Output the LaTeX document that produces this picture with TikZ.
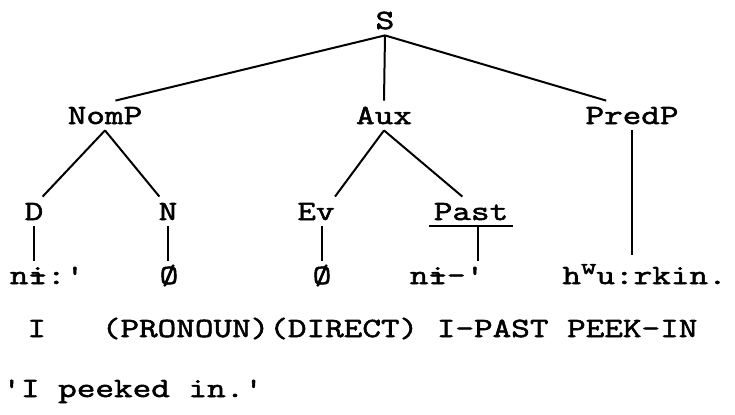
\documentclass[tikz,border=0pt]{standalone}
\usepackage{fontspec}
\setmonofont{Latin Modern Mono}[FakeStretch=1.3, FakeBold=2]
\usepackage{tikz}
\usetikzlibrary{positioning}
\tikzset{
	cat/.style={font=\ttfamily\fontsize{13.9}{16}\selectfont, inner xsep=0pt, inner ysep=3pt, text height=8.5pt, text depth=0pt, anchor=base},
	gloss/.style={font=\ttfamily\fontsize{13.9}{16}\selectfont, inner sep=0pt, anchor=base west},
	branch/.style={line width=1pt},
	>=latex
}
\newcommand{\ibar}{\rlap{i}-}
\newcommand{\supw}{\raisebox{5pt}{\fontsize{11.5}{13}\selectfont w}}
% one typewriter space
\newcommand{\tsp}{\phantom{x}}

\begin{document}
\begin{tikzpicture}[x=0.5pt, y=-0.5pt]
	% PAGE SIZE
	\useasboundingbox (0,0) rectangle (735,414);
	
	% baselines of the rows
	\newcommand{\rowS}{29} \newcommand{\rowP}{124}
	\newcommand{\rowC}{220} \newcommand{\rowW}{284}
	\newcommand{\rowG}{337} \newcommand{\rowT}{397}
	
	% Categories
	\node[cat] (S) at (385,\rowS) {S};
	\node[cat] (NomP) at (105,\rowP) {NomP};
	\node[cat] (Aux) at (384,\rowP) {Aux};
	\node[cat] (PredP) at (632,\rowP) {PredP};
	\node[cat] (D) at (34,\rowC) {D};
	\node[cat] (N) at (168,\rowC) {N};
	\node[cat] (Ev) at (316,\rowC) {Ev};
	\node[cat, inner xsep=2pt] (Past) at (471,\rowC) {Past};
	
	% Morphemes
	\node[cat] (nia) at (47,\rowW) {n\ibar:'};
	\node[cat] (zeroN) at (169,\rowW) {Ø};
	\node[cat] (zeroE) at (322,\rowW) {Ø};
	\node[cat] (nib) at (447,\rowW) {n\ibar-'};
	\node[cat, anchor=base west, inner ysep=6pt] (hwu) at (562,\rowW) {h\supw u:rkin.};
	
	% Gloss and translation
	\node[gloss] (gl) at (27,\rowG) {I\tsp\tsp\tsp(PRONOUN)(DIRECT)\tsp I-PAST\tsp PEEK-IN};
	\node[gloss] (tr) at (2,\rowT) {'I\tsp peeked\tsp in.'};
	
	% Branches
	\draw[branch] (S.south) -- (NomP.55);
	\draw[branch] (S.south) -- (Aux.north);
	\draw[branch] (S.south) -- (PredP.150);
	\draw[branch] (NomP.south) -- (D.60);
	\draw[branch] (NomP.south) -- (N.120);
	\draw[branch] (Aux.south) -- (Ev.north east);
	\draw[branch] (Aux.south) -- (Past.120);
	
	% Past is underlined, its stem hangs from the rule
	\draw[branch] (Past.south west) -- (Past.south east);
	\coordinate (pastfoot) at ([xshift=3.5pt]Past.south);
	
	% Stems down to the morphemes
	\draw[branch] (D.south) -- (D.south |- nia.north);
	\draw[branch] (N.south) -- (N.south |- zeroN.north);
	\draw[branch] (zeroE.north) -- (zeroE.north |- Ev.south);
	\draw[branch] (pastfoot) -- (pastfoot |- nib.north);
	\draw[branch] (PredP.south) -- (PredP.south |- hwu.north);
\end{tikzpicture}
\end{document}
